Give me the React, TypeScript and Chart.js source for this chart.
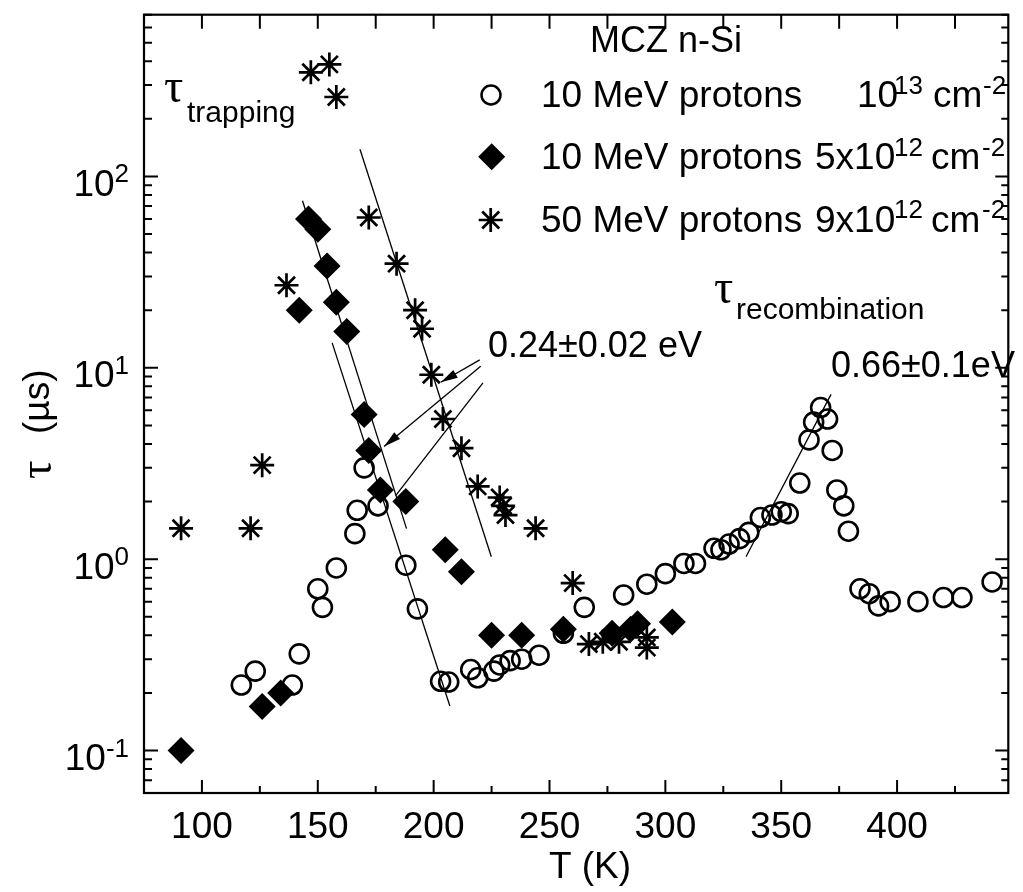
import React, { useEffect, useRef } from 'react';
import { Chart, registerables } from 'chart.js';

Chart.register(...registerables);

// ---- data (T in K, tau in microseconds) ----
const circleT = [117, 123, 139, 142, 150, 152, 158, 166, 167, 170, 176, 188, 193, 203, 206.5, 216, 219, 226, 228.5, 233, 238, 245.5, 256, 265, 282, 292, 300, 308, 313, 321, 324, 327.5, 332, 336, 341, 346, 350, 353, 358, 362, 364, 367, 370, 372, 374, 377, 379, 384, 388, 392, 397, 409, 420, 428, 441];
const circleTau = [0.22, 0.26, 0.22, 0.32, 0.7, 0.56, 0.9, 1.36, 1.8, 3.0, 1.9, 0.93, 0.55, 0.23, 0.228, 0.265, 0.24, 0.26, 0.28, 0.295, 0.3, 0.315, 0.41, 0.56, 0.65, 0.74, 0.84, 0.95, 0.95, 1.14, 1.12, 1.2, 1.28, 1.38, 1.65, 1.7, 1.77, 1.73, 2.5, 4.2, 5.2, 6.2, 5.4, 3.7, 2.3, 1.9, 1.4, 0.7, 0.66, 0.57, 0.6, 0.6, 0.63, 0.63, 0.76];

const diamondT = [91, 126, 134, 142, 146, 150, 154, 158, 162.5, 170, 172, 177, 188, 205, 212, 225, 238, 256, 277, 285, 288, 303];
const diamondTau = [0.1, 0.17, 0.2, 20, 60, 53, 34, 22, 15.5, 5.7, 3.7, 2.3, 2.0, 1.12, 0.86, 0.4, 0.4, 0.43, 0.41, 0.43, 0.46, 0.47];

const starT = [91, 121, 126, 136.5, 147, 155, 158, 172, 184, 192, 195, 199, 204, 212, 219, 228.5, 230, 231, 244, 260, 267, 273, 280, 292, 292];
const starTau = [1.45, 1.45, 3.1, 27, 350, 385, 260, 61, 35, 20, 16, 9.2, 5.4, 3.8, 2.4, 2.1, 1.9, 1.7, 1.45, 0.75, 0.36, 0.37, 0.37, 0.39, 0.345];

// fitted Arrhenius lines
const fitDiamondT = [143.4, 188.3];
const fitDiamondTau = [74.6, 1.445];
const fitCircleT = [156.2, 207.0];
const fitCircleTau = [13.5, 0.171];
const fitStarT = [168.2, 224.9];
const fitStarTau = [138.6, 1.03];
const fitRecombT = [334.8, 371.5];
const fitRecombTau = [1.03, 7.26];

// pointer lines from the 0.24 eV label (last point = tip)
const arrow1T = [219.9, 203.1];
const arrow1Tau = [11.0, 8.4];
const arrow2T = [220.3, 178.6];
const arrow2Tau = [10.2, 3.88];
const pointer3T = [221.3, 183.6];
const pointer3Tau = [8.35, 2.15];

// axes
const xMin = 75;
const xMax = 448;
const yMin = 0.06;
const yMax = 700;
const xMajorTicks = [100, 150, 200, 250, 300, 350, 400];
const xMinorTicks = [125, 175, 225, 275, 325, 375, 425];
const yDecades = [-1, 0, 1, 2];

const SANS = '"Liberation Sans", Arial, Helvetica, sans-serif';
const SERIF = '"Liberation Serif", "DejaVu Serif", serif';

const pts = (xs: number[], ys: number[]) => xs.map((x, i) => ({ x, y: ys[i] }));

const lineDs = (xs: number[], ys: number[]) => ({
  data: pts(xs, ys),
  showLine: true,
  pointRadius: 0,
  borderColor: '#000',
  borderWidth: 1.3,
  backgroundColor: '#000',
  order: 1,
});

function text(ctx: CanvasRenderingContext2D, s: string, x: number, y: number, font: string, align: CanvasTextAlign = 'left') {
  ctx.font = font;
  ctx.textAlign = align;
  ctx.textBaseline = 'alphabetic';
  ctx.fillText(s, x, y);
  return ctx.measureText(s).width;
}

const decor = {
  id: 'decor',
  afterDatasetsDraw(chart: any) {
    const { ctx, chartArea: a, scales } = chart;
    const xs = scales.x;
    const ys = scales.y;
    ctx.save();
    ctx.fillStyle = '#000';
    ctx.strokeStyle = '#000';

    // arrowheads
    const heads = [
      [arrow1T, arrow1Tau],
      [arrow2T, arrow2Tau],
    ];
    for (const [tx, ty] of heads) {
      const x0 = xs.getPixelForValue(tx[0]);
      const y0 = ys.getPixelForValue(ty[0]);
      const x1 = xs.getPixelForValue(tx[1]);
      const y1 = ys.getPixelForValue(ty[1]);
      const ang = Math.atan2(y1 - y0, x1 - x0);
      const L = 17;
      const W = 4.5;
      ctx.beginPath();
      ctx.moveTo(x1, y1);
      ctx.lineTo(x1 - L * Math.cos(ang) + W * Math.sin(ang), y1 - L * Math.sin(ang) - W * Math.cos(ang));
      ctx.lineTo(x1 - L * Math.cos(ang) - W * Math.sin(ang), y1 - L * Math.sin(ang) + W * Math.cos(ang));
      ctx.closePath();
      ctx.fill();
    }

    // frame
    ctx.lineWidth = 2.2;
    ctx.strokeRect(a.left, a.top, a.right - a.left, a.bottom - a.top);

    // x ticks (inward, bottom and top)
    ctx.lineWidth = 2;
    ctx.beginPath();
    for (const v of xMajorTicks) {
      const px = xs.getPixelForValue(v);
      ctx.moveTo(px, a.bottom);
      ctx.lineTo(px, a.bottom - 13);
      ctx.moveTo(px, a.top);
      ctx.lineTo(px, a.top + 14);
    }
    for (const v of xMinorTicks) {
      const px = xs.getPixelForValue(v);
      ctx.moveTo(px, a.bottom);
      ctx.lineTo(px, a.bottom - 7);
      ctx.moveTo(px, a.top);
      ctx.lineTo(px, a.top + 14);
    }
    // y ticks (inward, left and right)
    for (let d = -2; d <= 3; d++) {
      for (let k = 1; k <= 9; k++) {
        const v = k * Math.pow(10, d);
        if (v < yMin * 0.999 || v > yMax * 1.001) continue;
        const py = ys.getPixelForValue(v);
        const len = k === 1 ? 14 : 8;
        const lenR = k === 1 ? 13 : 7;
        ctx.moveTo(a.left, py);
        ctx.lineTo(a.left + len, py);
        ctx.moveTo(a.right, py);
        ctx.lineTo(a.right - lenR, py);
      }
    }
    ctx.stroke();

    // x tick labels
    for (const v of xMajorTicks) {
      text(ctx, String(v), xs.getPixelForValue(v), 838, `37px ${SANS}`, 'center');
    }
    // y tick labels 10^n
    for (const d of yDecades) {
      const py = ys.getPixelForValue(Math.pow(10, d));
      ctx.font = `26px ${SANS}`;
      const sup = String(d);
      const w = ctx.measureText(sup).width;
      text(ctx, sup, 129 - w, py + 6, `26px ${SANS}`);
      text(ctx, '10', 129 - w, py + 19.5, `37px ${SANS}`, 'right');
    }

    // axis titles
    text(ctx, 'T (K)', 590, 878, `37px ${SANS}`, 'center');
    ctx.save();
    ctx.translate(50, 479);
    ctx.rotate(-Math.PI / 2);
    text(ctx, 'τ', 0, 1, `46px ${SERIF}`);
    text(ctx, '(µs)', 45, -1, `37px ${SANS}`);
    ctx.restore();

    // annotations
    text(ctx, 'τ', 164, 102, `48px ${SERIF}`);
    text(ctx, 'trapping', 187, 121.7, `30px ${SANS}`);
    text(ctx, 'τ', 714, 303, `48px ${SERIF}`);
    text(ctx, 'recombination', 736, 319.3, `30px ${SANS}`);
    text(ctx, '0.24±0.02 eV', 488, 356.7, `36px ${SANS}`);
    text(ctx, '0.66±0.1eV', 831, 376.7, `36px ${SANS}`);
    text(ctx, 'MCZ n-Si', 590, 52, `36px ${SANS}`);

    // legend
    const F = `37px ${SANS}`;
    const FS = `26px ${SANS}`;
    const rows = [107, 169.3, 231.7];
    // circle
    ctx.lineWidth = 2.5;
    ctx.beginPath();
    ctx.arc(491, rows[0] - 12, 9.5, 0, Math.PI * 2);
    ctx.stroke();
    // diamond
    const dx = 491.7;
    const dy = rows[1] - 12.6;
    const r = 13.5;
    ctx.beginPath();
    ctx.moveTo(dx - r, dy);
    ctx.lineTo(dx, dy - r);
    ctx.lineTo(dx + r, dy);
    ctx.lineTo(dx, dy + r);
    ctx.closePath();
    ctx.fill();
    // asterisk
    const sx = 490.7;
    const sy = rows[2] - 11.7;
    const sr = 12;
    ctx.lineWidth = 2.7;
    ctx.beginPath();
    for (let i = 0; i < 4; i++) {
      const ang = (i * Math.PI) / 4;
      ctx.moveTo(sx - sr * Math.cos(ang), sy - sr * Math.sin(ang));
      ctx.lineTo(sx + sr * Math.cos(ang), sy + sr * Math.sin(ang));
    }
    ctx.stroke();

    text(ctx, '10 MeV protons', 541, rows[0], F);
    text(ctx, '10', 857, rows[0], F);
    text(ctx, '13', 894, rows[0] - 13.5, FS);
    text(ctx, 'cm', 933, rows[0], F);
    text(ctx, '-2', 983, rows[0] - 13.5, FS);

    text(ctx, '10 MeV protons', 541, rows[1], F);
    text(ctx, '5x10', 815, rows[1], F);
    text(ctx, '12', 894, rows[1] - 13.5, FS);
    text(ctx, 'cm', 931, rows[1], F);
    text(ctx, '-2', 982, rows[1] - 13.5, FS);

    text(ctx, '50 MeV protons', 541, rows[2], F);
    text(ctx, '9x10', 815, rows[2], F);
    text(ctx, '12', 894, rows[2] - 13.5, FS);
    text(ctx, 'cm', 931, rows[2], F);
    text(ctx, '-2', 982, rows[2] - 13.5, FS);

    ctx.restore();
  },
};

export default function App() {
  const ref = useRef<HTMLCanvasElement>(null);
  useEffect(() => {
    if (!ref.current) return;
    const chart = new Chart(ref.current, {
      type: 'scatter',
      data: {
        datasets: [
          lineDs(fitDiamondT, fitDiamondTau),
          lineDs(fitCircleT, fitCircleTau),
          lineDs(fitStarT, fitStarTau),
          lineDs(fitRecombT, fitRecombTau),
          lineDs(arrow1T, arrow1Tau),
          lineDs(arrow2T, arrow2Tau),
          lineDs(pointer3T, pointer3Tau),
          {
            data: pts(starT, starTau),
            pointStyle: 'star',
            pointRadius: 12,
            borderWidth: 2.7,
            borderColor: '#000',
            backgroundColor: '#000',
            order: 2,
          },
          {
            data: pts(diamondT, diamondTau),
            pointStyle: 'rectRot',
            pointRadius: 13.5,
            borderWidth: 0,
            borderColor: '#000',
            backgroundColor: '#000',
            order: 3,
          },
          {
            data: pts(circleT, circleTau),
            pointStyle: 'circle',
            pointRadius: 9.5,
            borderWidth: 2.6,
            borderColor: '#000',
            backgroundColor: 'rgba(0,0,0,0)',
            order: 4,
          },
        ] as any,
      },
      options: {
        responsive: false,
        animation: false,
        events: [],
        layout: { padding: { left: 0, right: 6, top: 9, bottom: 0 } },
        plugins: { legend: { display: false }, tooltip: { enabled: false }, title: { display: false } },
        scales: {
          x: {
            type: 'linear',
            min: xMin,
            max: xMax,
            grid: { display: false },
            border: { display: false },
            ticks: { display: false },
            afterFit: (s: any) => {
              s.height = 99;
            },
          },
          y: {
            type: 'logarithmic',
            min: yMin,
            max: yMax,
            grid: { display: false },
            border: { display: false },
            ticks: { display: false },
            afterFit: (s: any) => {
              s.width = 144;
            },
          },
        },
      },
      plugins: [decor],
    });
    return () => chart.destroy();
  }, []);
  return (
    <div style={{ position: 'fixed', left: 0, top: 0, width: 1023, height: 892, background: '#fff' }}>
      <canvas ref={ref} width={1023} height={892} style={{ width: 1023, height: 892, display: 'block' }} />
    </div>
  );
}
